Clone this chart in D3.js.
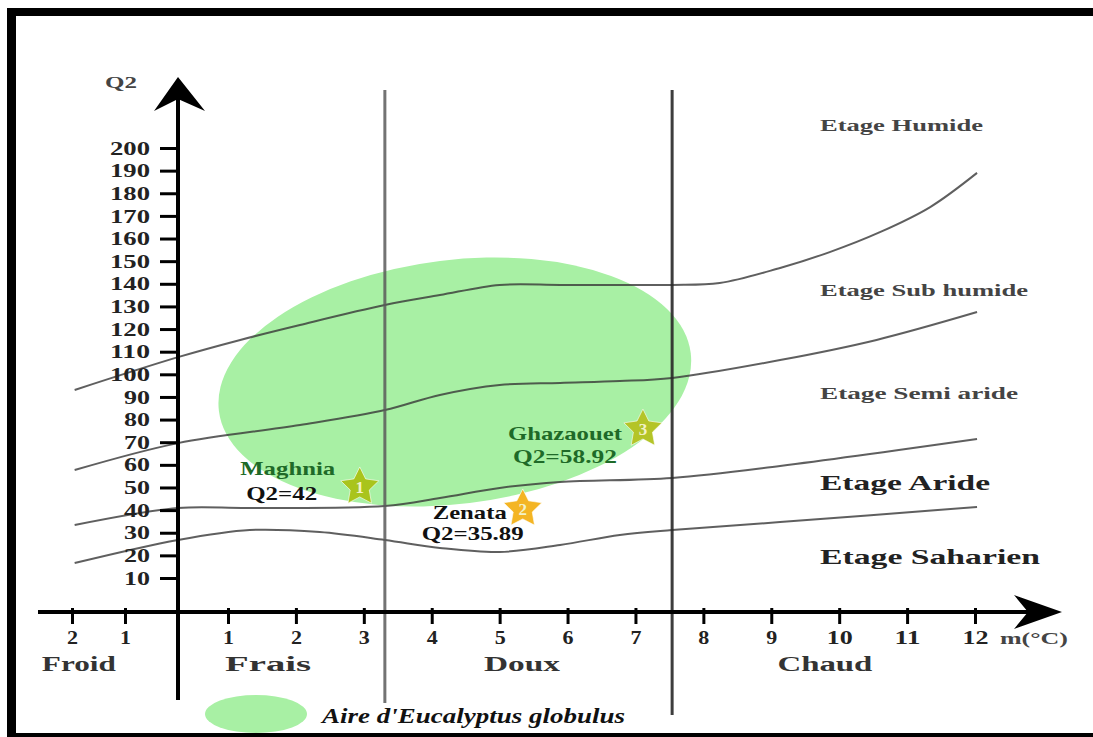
<!DOCTYPE html>
<html><head><meta charset="utf-8">
<script src="https://cdn.jsdelivr.net/npm/d3@7"></script>
<style>html,body{margin:0;padding:0;background:#fff;} svg{display:block;}</style>
</head><body>
<svg id="c" width="1093" height="737"></svg>
<script>
// ---------- data ----------
const mTicks = [-2, -1, 1, 2, 3, 4, 5, 6, 7, 8, 9, 10, 11, 12];
const q2Ticks = [10, 20, 30, 40, 50, 60, 70, 80, 90, 100, 110, 120, 130, 140, 150, 160, 170, 180, 190, 200];
const zoneNames = ["Froid", "Frais", "Doux", "Chaud"];
const zoneCenters = [-1.87, 1.59, 5.33, 9.79];
const zoneLimits = [3.31, 7.54];
const etageNames = ["Etage Humide", "Etage Sub humide", "Etage Semi aride", "Etage Aride", "Etage Saharien"];
const etageQ = [210.2, 137.3, 91.7, 52.0, 19.3];
// Emberger boundary curves [m, Q2]
const limHumide = [[-1.95,93.1],[0,107.6],[1.18,115.2],[2.06,121.8],[3.31,130.6],[4.12,135.0],[5.0,139.5],[5.89,139.5],[6.77,139.5],[7.54,139.5],[8.24,140.3],[9.13,147.0],[9.86,154.0],[10.6,162.8],[11.34,173.9],[12.03,189.0]];
const limSubHumide = [[-1.95,57.7],[0,69.6],[2.06,77.6],[3.31,84.2],[4.12,90.9],[5.0,95.3],[5.89,96.2],[6.77,97.0],[7.54,98.4],[9.13,106.3],[10.55,115.2],[12.03,127.5]];
const limSemiAride = [[-1.95,33.4],[0,40.9],[1.32,40.9],[3.31,41.8],[4.12,45.3],[5.0,49.8],[5.89,52.4],[7.54,54.2],[9.13,59.5],[12.03,71.4]];
const limAride = [[-1.95,16.6],[0,26.8],[1.32,31.2],[2.35,30.3],[3.31,26.8],[4.12,23.3],[5.0,21.5],[5.89,24.6],[6.77,29.0],[7.54,31.2],[9.13,34.7],[12.03,41.4]];
// stations
const stationNames = ["Maghnia", "Zenata", "Ghazaouet"];
const stationQ2Text = ["Q2=42", "Q2=35.89", "Q2=58.92"];
const stationNum = ["1", "2", "3"];
const stationM = [2.94, 5.34, 7.11];
const stationQ = [51.1, 41.4, 76.7];
// eucalyptus area (centre and radii in data units)
const areaCentreM = 4.34, areaCentreQ = 96.6, areaRadiusM = 3.50, areaRadiusQ = 53.9;
const legendText = "Aire d'Eucalyptus globulus";

// ---------- drawing ----------
const svg = d3.select("#c");
const serif = "'Liberation Serif','Times New Roman',serif";
const x = d3.scaleLinear().domain([-2, 0, 1, 12]).range([72, 178, 228, 975]);
const y = d3.scaleLinear().domain([10, 200]).range([578, 148]);
const axisX = x(0), axisY = 612;

svg.append("rect").attr("width", 1093).attr("height", 737).attr("fill", "#fff");

// eucalyptus area
const ecx = x(areaCentreM), ecy = y(areaCentreQ);
svg.append("ellipse")
  .attr("cx", ecx).attr("cy", ecy)
  .attr("rx", x(areaCentreM + areaRadiusM) - ecx)
  .attr("ry", ecy - y(areaCentreQ + areaRadiusQ))
  .attr("transform", `rotate(-7,${ecx},${ecy})`)
  .attr("fill", "#a8f0a4");

// boundary curves
const line = d3.line().x(d => x(d[0])).y(d => y(d[1])).curve(d3.curveCatmullRom.alpha(0.5));
[limHumide, limSubHumide, limSemiAride, limAride].forEach(c => {
  svg.append("path").attr("d", line(c)).attr("fill", "none")
    .attr("stroke", "rgba(55,55,55,0.8)").attr("stroke-width", 2);
});

// vertical zone limits
svg.append("line").attr("x1", x(zoneLimits[0])).attr("x2", x(zoneLimits[0]))
  .attr("y1", 90).attr("y2", 703).attr("stroke", "rgba(90,90,90,0.85)").attr("stroke-width", 3);
svg.append("line").attr("x1", x(zoneLimits[1])).attr("x2", x(zoneLimits[1]))
  .attr("y1", 90).attr("y2", 715).attr("stroke", "rgba(40,40,40,0.9)").attr("stroke-width", 3);

// axes lines
svg.append("line").attr("x1", axisX).attr("x2", axisX).attr("y1", 90).attr("y2", 700)
  .attr("stroke", "#000").attr("stroke-width", 4);
svg.append("line").attr("x1", 38).attr("x2", 1050).attr("y1", axisY).attr("y2", axisY)
  .attr("stroke", "#000").attr("stroke-width", 4);
// arrow heads
svg.append("path").attr("d", `M${axisX},77 L${axisX+27},111 L${axisX},99 L${axisX-24},111 Z`).attr("fill", "#000");
svg.append("path").attr("d", `M1062,${axisY} L1014,${axisY-17} L1028,${axisY} L1014,${axisY+17} Z`).attr("fill", "#000");

// y axis ticks
const gy = svg.append("g").attr("transform", `translate(${axisX},0)`)
  .call(d3.axisLeft(y).tickValues(q2Ticks).tickSize(18).tickPadding(10));
gy.select(".domain").remove();
gy.selectAll(".tick line").attr("stroke", "#000").attr("stroke-width", 3);
gy.selectAll(".tick text").attr("font-family", serif).attr("font-weight", "bold")
  .attr("font-size", 18).attr("fill", "#222").attr("dy", "0.34em")
  .attr("textLength", d => String(d).length === 3 ? 40 : 26).attr("lengthAdjust", "spacingAndGlyphs");

// x axis ticks
const gx = svg.append("g").attr("transform", `translate(0,${axisY})`)
  .call(d3.axisBottom(x).tickValues(mTicks).tickSize(12).tickPadding(7).tickFormat(d => Math.abs(d)));
gx.select(".domain").remove();
gx.selectAll(".tick line").attr("y1", -4).attr("stroke", "#000").attr("stroke-width", 3);
gx.selectAll(".tick text").attr("font-family", serif).attr("font-weight", "bold")
  .attr("font-size", 18).attr("fill", "#222")
  .attr("textLength", d => String(Math.abs(d)).length === 2 ? 26 : 11).attr("lengthAdjust", "spacingAndGlyphs");

// axis titles
svg.append("text").attr("x", 121).attr("y", 88).attr("text-anchor", "middle")
  .attr("font-family", serif).attr("font-weight", "bold").attr("font-size", 17).attr("fill", "#444")
  .attr("textLength", 32).attr("lengthAdjust", "spacingAndGlyphs").text("Q2");
svg.append("text").attr("x", 1000).attr("y", 644)
  .attr("font-family", serif).attr("font-weight", "bold").attr("font-size", 17).attr("fill", "#444")
  .attr("textLength", 68).attr("lengthAdjust", "spacingAndGlyphs").text("m(°C)");

// zone names
const zoneW = [74, 86, 76, 95];
zoneNames.forEach((n, i) => {
  svg.append("text").attr("x", x(zoneCenters[i])).attr("y", 671).attr("text-anchor", "middle")
    .attr("font-family", serif).attr("font-weight", "bold").attr("font-size", 20).attr("fill", "#333")
    .attr("textLength", zoneW[i]).attr("lengthAdjust", "spacingAndGlyphs").text(n);
});

// etage names
const etW = [163, 208, 198, 170, 220];
const etFs = [17, 17, 17, 21, 21];
etageNames.forEach((n, i) => {
  svg.append("text").attr("x", 820).attr("y", y(etageQ[i]) + etFs[i] * 0.33)
    .attr("font-family", serif).attr("font-weight", "bold").attr("font-size", etFs[i])
    .attr("fill", i >= 3 ? "#222" : "#444")
    .attr("textLength", etW[i]).attr("lengthAdjust", "spacingAndGlyphs").text(n);
});

// stations
const starColors = ["#a9c41c", "#f4b524", "#b4c428"];
const nameColors = ["#1e6a28", "#111", "#1e6a28"];
const q2Colors = ["#111", "#111", "#1e6a28"];
const nameOff = [[-72, -10, 95], [-53, 12, 74], [-78, 13, 114]];
const q2Off = [[-78, 15, 71], [-50, 33, 102], [-78, 36, 104]];
const starPts = d3.range(10).map(k => [k * Math.PI / 5, k % 2 === 0 ? 20 : 10]);
const starPath = d3.lineRadial().angle(d => d[0]).radius(d => d[1]).curve(d3.curveLinearClosed)(starPts);
stationNames.forEach((n, i) => {
  const sx = x(stationM[i]), sy = y(stationQ[i]);
  svg.append("path").attr("d", starPath).attr("transform", `translate(${sx},${sy + 2})`)
    .attr("fill", starColors[i]).attr("stroke", "rgba(255,255,255,0.6)").attr("stroke-width", 1);
  svg.append("text").attr("x", sx).attr("y", sy + 8).attr("text-anchor", "middle")
    .attr("font-family", serif).attr("font-weight", "bold").attr("font-size", 17).attr("fill", "#f2f2c8")
    .text(stationNum[i]);
  svg.append("text").attr("x", sx + nameOff[i][0]).attr("y", sy + nameOff[i][1])
    .attr("text-anchor", "middle")
    .attr("font-family", serif).attr("font-weight", "bold").attr("font-size", 19).attr("fill", nameColors[i])
    .attr("textLength", nameOff[i][2]).attr("lengthAdjust", "spacingAndGlyphs").text(n);
  svg.append("text").attr("x", sx + q2Off[i][0]).attr("y", sy + q2Off[i][1])
    .attr("text-anchor", "middle")
    .attr("font-family", serif).attr("font-weight", "bold").attr("font-size", 19).attr("fill", q2Colors[i])
    .attr("textLength", q2Off[i][2]).attr("lengthAdjust", "spacingAndGlyphs").text(stationQ2Text[i]);
});

// legend
svg.append("ellipse").attr("cx", 256).attr("cy", 714).attr("rx", 51).attr("ry", 19).attr("fill", "#a8f0a4");
svg.append("text").attr("x", 322).attr("y", 723)
  .attr("font-family", serif).attr("font-weight", "bold").attr("font-style", "italic")
  .attr("font-size", 21).attr("fill", "#111")
  .attr("textLength", 303).attr("lengthAdjust", "spacingAndGlyphs").text(legendText);

// frame
svg.append("rect").attr("x", 7).attr("y", 8).attr("width", 1086).attr("height", 8).attr("fill", "#000");
svg.append("rect").attr("x", 7).attr("y", 8).attr("width", 9).attr("height", 729).attr("fill", "#000");
svg.append("rect").attr("x", 7).attr("y", 733).attr("width", 1086).attr("height", 4).attr("fill", "#000");
</script>
</body></html>
